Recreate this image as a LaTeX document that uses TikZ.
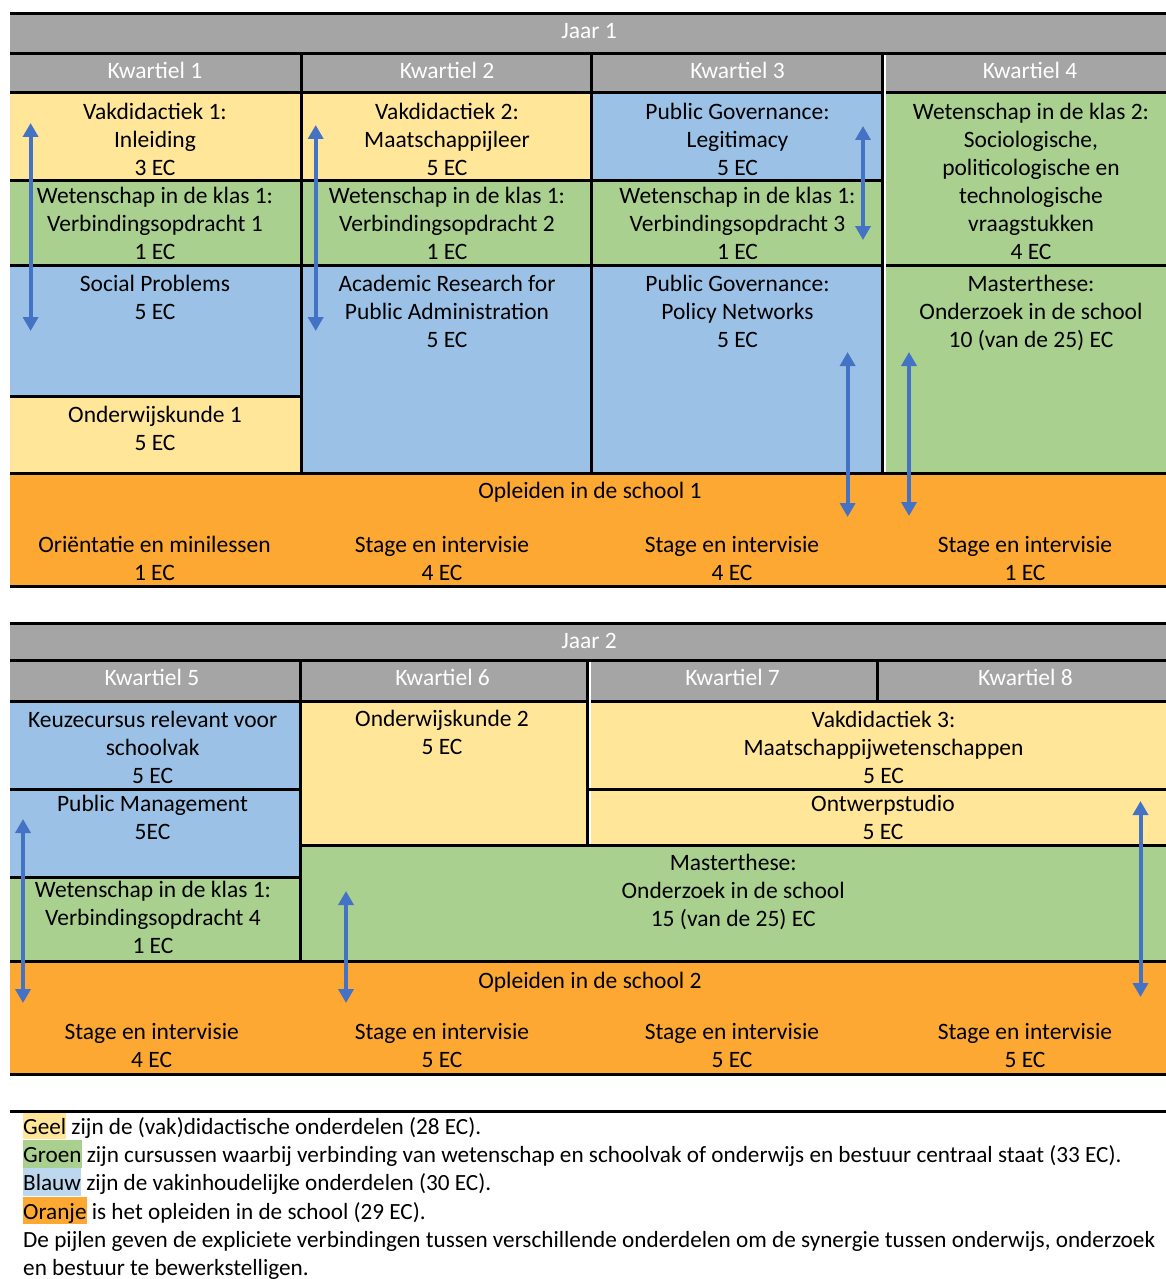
\documentclass[tikz,border=0pt]{standalone}
\usepackage{fontspec}
\setmainfont{Carlito}
\usetikzlibrary{arrows.meta}
\definecolor{hdr}{HTML}{A5A5A5}
\definecolor{yel}{HTML}{FFE699}
\definecolor{grn}{HTML}{A9D08E}
\definecolor{blu}{HTML}{9BC2E6}
\definecolor{lblu}{HTML}{BDD7EE}
\definecolor{org}{HTML}{FDA832}
\definecolor{arr}{HTML}{4472C4}
\tikzset{
  txt/.style={font=\fontsize{23.5}{28}\selectfont, align=center, inner sep=0pt, yshift=-2pt,
    execute at begin node=\strut, execute at end node=\strut},
  htxt/.style={txt, text=white},
  gridline/.style={line width=3pt, black},
  whiteline/.style={line width=1.5pt, white},
  conn/.style={arr, line width=4pt, {Triangle[width=15pt,length=14pt]}-{Triangle[width=15pt,length=14pt]}},
  legend/.style={font=\fontsize{23.2}{28.3}\selectfont, align=left, inner sep=0pt, anchor=north west,
    execute at end node=\strut}
}
\newcommand{\hl}[2]{{\setlength{\fboxsep}{0pt}\colorbox{#1}{\rule[-5pt]{0pt}{27.5pt}#2}}}
\begin{document}
\begin{tikzpicture}[x=1pt,y=-1pt]
\useasboundingbox (0,0) rectangle (1166,1279);
% ================= YEAR 1 =================
\fill[hdr] (10,14) rectangle (1166,93);
\fill[yel] (10,93) rectangle (301,180);
\fill[grn] (10,180) rectangle (301,265);
\fill[blu] (10,265) rectangle (301,396);
\fill[yel] (10,396) rectangle (301,473);
\fill[yel] (301,93) rectangle (591,180);
\fill[grn] (301,180) rectangle (591,265);
\fill[blu] (301,265) rectangle (591,473);
\fill[blu] (591,93) rectangle (882,180);
\fill[grn] (591,180) rectangle (882,265);
\fill[blu] (591,265) rectangle (882,473);
\fill[grn] (882,93) rectangle (1166,473);
\fill[org] (10,473) rectangle (1166,586);
% grid
\draw[gridline] (10,14) -- (1166,14);
\draw[gridline] (10,54) -- (1166,54);
\draw[gridline] (10,93) -- (1166,93);
\draw[gridline] (10,180) -- (882,180);
\draw[gridline] (10,265) -- (1166,265);
\draw[gridline] (10,396) -- (301,396);
\draw[gridline] (10,473) -- (1166,473);
\draw[gridline] (10,586) -- (1166,586);
\draw[gridline] (301,54) -- (301,473);
\draw[gridline] (591,54) -- (591,473);
\draw[gridline] (882,54) -- (882,473);
\draw[whiteline] (885,55.5) -- (885,471.5);
% texts
\node[htxt] (jaar1) at (589,30.5) {Jaar 1};
\node[htxt] (kw1) at (155,71.4) {Kwartiel 1};
\node[htxt] (kw2) at (447,71.4) {Kwartiel 2};
\node[htxt] (kw3) at (737.5,71.4) {Kwartiel 3};
\node[htxt] (kw4) at (1030,71.4) {Kwartiel 4};
\node[txt] (vak1) at (155,141.4) {Vakdidactiek 1:\\Inleiding\\3 EC};
\node[txt] (wet1) at (155,225.4) {Wetenschap in de klas 1:\\Verbindingsopdracht 1\\1 EC};
\node[txt] (soc) at (155,299.4) {Social Problems\\5 EC};
\node[txt] (ow1) at (155,430.4) {Onderwijskunde 1\\5 EC};
\node[txt] (vak2) at (447,141.4) {Vakdidactiek 2:\\Maatschappijleer\\5 EC};
\node[txt] (wet2) at (447,225.4) {Wetenschap in de klas 1:\\Verbindingsopdracht 2\\1 EC};
\node[txt] (arp) at (447,313.4) {Academic Research for\\Public Administration\\5 EC};
\node[txt] (pg1) at (737.5,141.4) {Public Governance:\\Legitimacy\\5 EC};
\node[txt] (wet3) at (737.5,225.4) {Wetenschap in de klas 1:\\Verbindingsopdracht 3\\1 EC};
\node[txt] (pg2) at (737.5,313.4) {Public Governance:\\Policy Networks\\5 EC};
\node[txt] (wik2) at (1031,183.4) {Wetenschap in de klas 2:\\Sociologische,\\politicologische en\\technologische\\vraagstukken\\4 EC};
\node[txt] (mt1) at (1031,313.4) {Masterthese:\\Onderzoek in de school\\10 (van de 25) EC};
\node[txt] (ois1) at (590,490.4) {Opleiden in de school 1};
\node[txt] (st1) at (154.5,561) {Oriëntatie en minilessen\\1 EC};
\node[txt] (st2) at (442,561) {Stage en intervisie\\4 EC};
\node[txt] (st3) at (732,561) {Stage en intervisie\\4 EC};
\node[txt] (st4) at (1025,561) {Stage en intervisie\\1 EC};
% arrows year 1
\coordinate (a1t) at (30.6,123);
\coordinate (a1b) at (30.6,331);
\coordinate (a2t) at (315.7,125);
\coordinate (a2b) at (315.7,331);
\coordinate (a3t) at (863,126);
\coordinate (a3b) at (863,240);
\coordinate (a4t) at (847.6,352);
\coordinate (a4b) at (847.6,517);
\coordinate (a5t) at (909,352);
\coordinate (a5b) at (909,516);
\draw[conn] (a1t) -- (a1b);
\draw[conn] (a2t) -- (a2b);
\draw[conn] (a3t) -- (a3b);
\draw[conn] (a4t) -- (a4b);
\draw[conn] (a5t) -- (a5b);
% ================= YEAR 2 =================
\fill[hdr] (10,623) rectangle (1166,701);
\fill[blu] (10,701) rectangle (300,877);
\fill[grn] (10,877) rectangle (300,961);
\fill[yel] (300,701) rectangle (1166,845);
\fill[grn] (300,845) rectangle (1166,961);
\fill[org] (10,961) rectangle (1166,1074);
\draw[gridline] (10,623) -- (1166,623);
\draw[gridline] (10,660) -- (1166,660);
\draw[gridline] (10,701) -- (1166,701);
\draw[gridline] (10,789) -- (300,789);
\draw[gridline] (587,789) -- (1166,789);
\draw[gridline] (10,877) -- (300,877);
\draw[gridline] (300,845) -- (1166,845);
\draw[gridline] (10,961) -- (1166,961);
\draw[gridline] (10,1074) -- (1166,1074);
\draw[gridline] (300,660) -- (300,961);
\draw[gridline] (587,660) -- (587,845);
\draw[gridline] (877,660) -- (877,701);
\draw[whiteline] (589.8,661.5) -- (589.8,787.5);
\draw[whiteline] (589.8,790.5) -- (589.8,843.5);
\node[htxt] (jaar2) at (589,641) {Jaar 2};
\node[htxt] (kw5) at (152,677.4) {Kwartiel 5};
\node[htxt] (kw6) at (442.6,677.4) {Kwartiel 6};
\node[htxt] (kw7) at (732.6,677.4) {Kwartiel 7};
\node[htxt] (kw8) at (1025.4,677.4) {Kwartiel 8};
\node[txt] (keuze) at (152.7,749.4) {Keuzecursus relevant voor\\schoolvak\\5 EC};
\node[txt] (pm) at (152.5,819.9) {Public Management\\5EC};
\node[txt] (wet4) at (153,919.9) {Wetenschap in de klas 1:\\Verbindingsopdracht 4\\1 EC};
\node[txt] (ow2) at (442,734.4) {Onderwijskunde 2\\5 EC};
\node[txt] (vak3) at (883.5,749.4) {Vakdidactiek 3:\\Maatschappijwetenschappen\\5 EC};
\node[txt] (ontw) at (883,819.9) {Ontwerpstudio\\5 EC};
\node[txt] (mt2) at (733.2,892.7) {Masterthese:\\Onderzoek in de school\\15 (van de 25) EC};
\node[txt] (ois2) at (590,980.4) {Opleiden in de school 2};
\node[txt] (st5) at (151.7,1047.7) {Stage en intervisie\\4 EC};
\node[txt] (st6) at (442,1047.7) {Stage en intervisie\\5 EC};
\node[txt] (st7) at (732,1047.7) {Stage en intervisie\\5 EC};
\node[txt] (st8) at (1025,1047.7) {Stage en intervisie\\5 EC};
% arrows year 2
\coordinate (b1t) at (23,819);
\coordinate (b1b) at (23,1003);
\coordinate (b2t) at (346,891);
\coordinate (b2b) at (346,1003);
\coordinate (b3t) at (1140.5,801);
\coordinate (b3b) at (1140.5,997);
\draw[conn] (b1t) -- (b1b);
\draw[conn] (b2t) -- (b2b);
\draw[conn] (b3t) -- (b3b);
% ================= LEGEND =================
\node[legend] (leg) at (23,1111.6) {\hl{yel}{Geel} zijn de (vak)didactische onderdelen (28 EC).\\
\hl{grn}{Groen} zijn cursussen waarbij verbinding van wetenschap en schoolvak of onderwijs en bestuur centraal staat (33 EC).\\
\hl{lblu}{Blauw} zijn de vakinhoudelijke onderdelen (30 EC).\\
\hl{org}{Oranje} is het opleiden in de school (29 EC).\\
De pijlen geven de expliciete verbindingen tussen verschillende onderdelen om de synergie tussen onderwijs, onderzoek\\
en bestuur te bewerkstelligen.};
\draw[gridline] (10,1111) -- (1166,1111);
\end{tikzpicture}
\end{document}
